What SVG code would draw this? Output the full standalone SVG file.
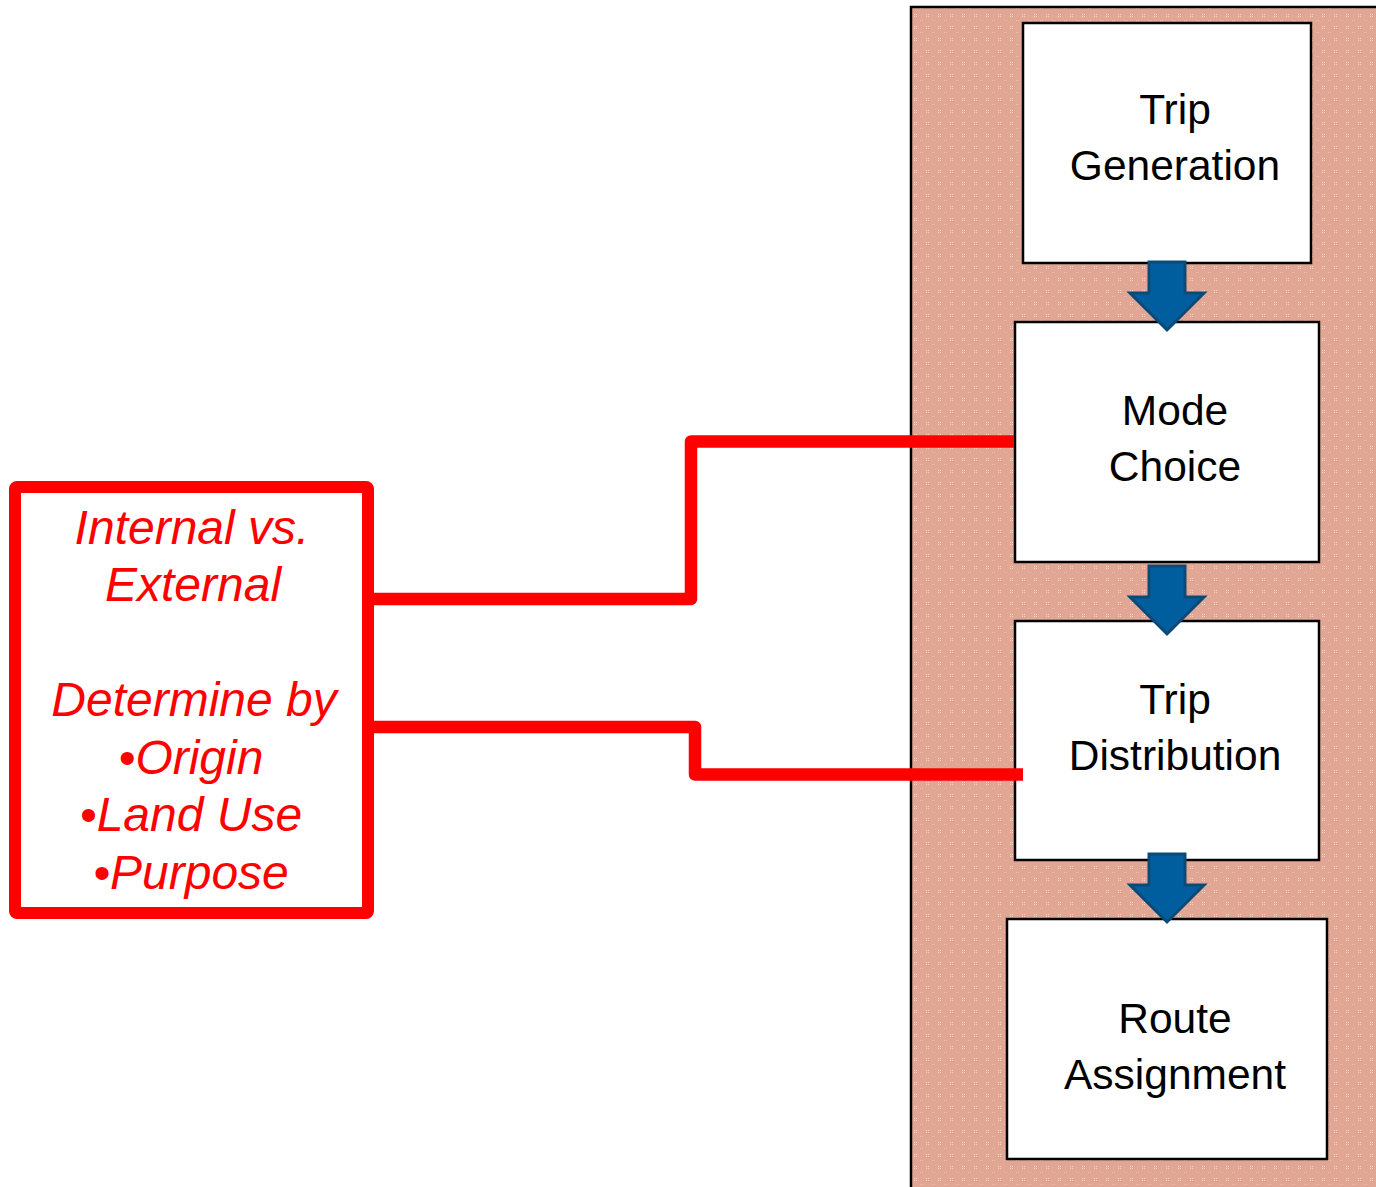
<svg xmlns="http://www.w3.org/2000/svg" width="1376" height="1187" viewBox="0 0 1376 1187">
  <defs>
    <pattern id="weave" width="12" height="12" patternUnits="userSpaceOnUse">
      <rect width="12" height="12" fill="#E2A794"/>
      <rect x="2" y="2" width="1" height="1" fill="#F3D6C8"/>
      <rect x="4" y="2" width="1" height="1" fill="#F3D6C8"/>
      <rect x="2" y="4" width="1" height="1" fill="#F3D6C8"/>
      <rect x="4" y="4" width="1" height="1" fill="#F3D6C8"/>
      <rect x="8" y="8" width="1" height="1" fill="#EBC0B0"/>
      <rect x="10" y="8" width="1" height="1" fill="#EBC0B0"/>
    </pattern>
    <path id="down-arrow" d="M -18 0 H 18 V 31 H 37 L 0 68 L -37 31 H -18 Z"/>
  </defs>
  <style>
    .panel { fill: url(#weave); stroke: #000; stroke-width: 2.5; }
    .step { fill: #fff; stroke: #000; stroke-width: 2.5; }
    .step-label { font-family: "Liberation Sans", Arial, sans-serif; font-size: 42.5px; fill: #000; text-anchor: middle; }
    .note { fill: #fff; stroke: #FF0000; stroke-width: 12; stroke-linejoin: round; }
    .note-label { font-family: "Liberation Sans", Arial, sans-serif; font-size: 48px; font-style: italic; fill: #FF0000; text-anchor: middle; }
    .flow { fill: #005E9E; stroke: #0B4A78; stroke-width: 3; stroke-linejoin: miter; }
    .link { fill: none; stroke: #FF0000; stroke-width: 12.5; stroke-linejoin: round; }
  </style>

  <rect id="panel" class="panel" x="911" y="7" width="480" height="1200"/>

  <g id="trip-generation">
    <rect class="step" x="1023" y="23" width="288" height="240"/>
    <text class="step-label" x="1175" y="124">Trip</text>
    <text class="step-label" x="1175" y="180">Generation</text>
  </g>

  <g id="mode-choice">
    <rect class="step" x="1015" y="322" width="304" height="240"/>
    <text class="step-label" x="1175" y="425">Mode</text>
    <text class="step-label" x="1175" y="481">Choice</text>
  </g>

  <g id="trip-distribution">
    <rect class="step" x="1015" y="621" width="304" height="239"/>
    <text class="step-label" x="1175" y="714">Trip</text>
    <text class="step-label" x="1175" y="770">Distribution</text>
  </g>

  <g id="route-assignment">
    <rect class="step" x="1007" y="919" width="320" height="240"/>
    <text class="step-label" x="1175" y="1033">Route</text>
    <text class="step-label" x="1175" y="1089">Assignment</text>
  </g>

  <g id="trip-type-note">
    <rect class="note" x="15" y="487" width="353" height="426" rx="2"/>
    <text class="note-label" x="192" y="544">Internal vs.</text>
    <text class="note-label" x="193" y="601">External</text>
    <text class="note-label" x="194" y="716">Determine by</text>
    <text class="note-label" x="191" y="774">•Origin</text>
    <text class="note-label" x="191" y="831">•Land Use</text>
    <text class="note-label" x="191" y="889">•Purpose</text>
  </g>

  <g id="connectors">
    <use href="#down-arrow" class="flow" x="1167" y="262"/>
    <use href="#down-arrow" class="flow" x="1167" y="566"/>
    <use href="#down-arrow" class="flow" x="1167" y="854"/>
    <polyline class="link" points="368,599 691,599 691,441.5 1014,441.5"/>
    <polyline class="link" points="368,727 695,727 695,774.5 1023,774.5"/>
  </g>
</svg>
